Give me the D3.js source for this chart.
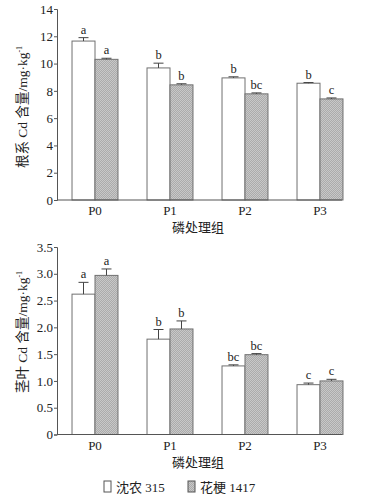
<!DOCTYPE html>
<html>
<head>
<meta charset="utf-8">
<script src="https://cdn.jsdelivr.net/npm/d3@7"></script>
<style>
  body { margin: 0; background: #fff; }
  svg text { font-family: "Liberation Serif", "Noto Sans CJK SC", serif; fill: #222; }
</style>
</head>
<body>
<svg id="chart" width="374" height="498"></svg>
<script>
var groups = ["P0", "P1", "P2", "P3"];
var series = ["沈农 315", "花梗 1417"];

// root Cd
var rootShen = [11.65, 9.68, 8.95, 8.56];
var rootShenErr = [0.25, 0.35, 0.08, 0.05];
var rootHua = [10.31, 8.44, 7.78, 7.41];
var rootHuaErr = [0.08, 0.08, 0.07, 0.07];
var rootShenSig = ["a", "b", "b", "b"];
var rootHuaSig = ["a", "b", "bc", "c"];
var rootTicks = [0, 2, 4, 6, 8, 10, 12, 14];

// shoot Cd
var shootShen = [2.62, 1.78, 1.28, 0.93];
var shootShenErr = [0.22, 0.18, 0.02, 0.03];
var shootHua = [2.97, 1.97, 1.49, 1.0];
var shootHuaErr = [0.12, 0.15, 0.02, 0.03];
var shootShenSig = ["a", "b", "bc", "c"];
var shootHuaSig = ["a", "b", "bc", "c"];
var shootTicks = [0, 0.5, 1.0, 1.5, 2.0, 2.5, 3.0, 3.5];

var svg = d3.select("#chart");

var defs = svg.append("defs");
var pat = defs.append("pattern")
    .attr("id", "hatch")
    .attr("width", 2).attr("height", 2)
    .attr("patternUnits", "userSpaceOnUse");
pat.append("rect").attr("width", 2).attr("height", 2).attr("fill", "#ababab");
pat.append("rect").attr("width", 1).attr("height", 1).attr("fill", "#c8c8c8");
pat.append("rect").attr("x", 1).attr("y", 1).attr("width", 1).attr("height", 1).attr("fill", "#c8c8c8");

var axisLeft = 57, axisRight = 342;

var xScale = d3.scaleBand()
    .domain(groups)
    .range([57.5, 357.5])
    .paddingInner(0.387)
    .paddingOuter(0.1935);

var xInner = d3.scaleBand()
    .domain(series)
    .range([0, xScale.bandwidth()]);

var drawPanel = function(opts) {
    var yScale = d3.scaleLinear().domain([opts.ticks[0], opts.ticks[opts.ticks.length - 1]])
        .range([opts.bottom, opts.top]);
    var g = svg.append("g");

    var data = [];
    groups.forEach(function(grp, i) {
        data.push({ grp: grp, s: series[0], v: opts.a[i], e: opts.aErr[i], sig: opts.aSig[i], fill: "#fff" });
        data.push({ grp: grp, s: series[1], v: opts.b[i], e: opts.bErr[i], sig: opts.bSig[i], fill: "url(#hatch)" });
    });

    g.selectAll(".bar").data(data).enter().append("rect")
        .attr("class", "bar")
        .attr("x", function(d) { return xScale(d.grp) + xInner(d.s); })
        .attr("y", function(d) { return yScale(d.v); })
        .attr("width", xInner.bandwidth())
        .attr("height", function(d) { return yScale(0) - yScale(d.v); })
        .attr("fill", function(d) { return d.fill; })
        .attr("stroke", "#707070")
        .attr("stroke-width", 1);

    // error bars (upper half only)
    var err = g.selectAll(".err").data(data).enter().append("g");
    err.append("line")
        .attr("x1", function(d) { return xScale(d.grp) + xInner(d.s) + xInner.bandwidth() / 2; })
        .attr("x2", function(d) { return xScale(d.grp) + xInner(d.s) + xInner.bandwidth() / 2; })
        .attr("y1", function(d) { return yScale(d.v); })
        .attr("y2", function(d) { return yScale(d.v + d.e); })
        .attr("stroke", "#444");
    err.append("line")
        .attr("x1", function(d) { return xScale(d.grp) + xInner(d.s) + xInner.bandwidth() / 2 - 5; })
        .attr("x2", function(d) { return xScale(d.grp) + xInner(d.s) + xInner.bandwidth() / 2 + 5; })
        .attr("y1", function(d) { return yScale(d.v + d.e); })
        .attr("y2", function(d) { return yScale(d.v + d.e); })
        .attr("stroke", "#444");

    g.selectAll(".sig").data(data).enter().append("text")
        .attr("x", function(d) { return xScale(d.grp) + xInner(d.s) + xInner.bandwidth() / 2; })
        .attr("y", function(d) { return yScale(d.v + d.e) - 4; })
        .attr("text-anchor", "middle")
        .attr("font-size", 12.5)
        .text(function(d) { return d.sig; });

    var yAxis = d3.axisLeft(yScale).tickValues(opts.ticks).tickSize(3)
        .tickFormat(function(d) { return d === 0 ? "0" : (opts.dec ? d3.format(".1f")(d) : d); });
    var ya = g.append("g").attr("transform", "translate(" + axisLeft + ",0)").call(yAxis);
    ya.select(".domain").attr("stroke", "#555");
    ya.selectAll(".tick line").attr("stroke", "#555");
    ya.selectAll(".tick text").attr("font-size", 13).attr("x", -4).attr("fill", "#222");

    g.append("line")
        .attr("x1", axisLeft).attr("x2", axisRight)
        .attr("y1", yScale(0)).attr("y2", yScale(0))
        .attr("stroke", "#555");

    g.selectAll(".xl").data(groups).enter().append("text")
        .attr("x", function(d) { return xScale(d) + xScale.bandwidth() / 2; })
        .attr("y", yScale(0) + 15)
        .attr("text-anchor", "middle")
        .attr("font-size", 13)
        .text(function(d) { return d; });

    g.append("text")
        .attr("x", 198).attr("y", yScale(0) + 32)
        .attr("text-anchor", "middle")
        .attr("font-size", 13)
        .text("磷处理组");

    var t = g.append("text")
        .attr("transform", "translate(27," + opts.titleY + ") rotate(-90)")
        .attr("text-anchor", "middle")
        .attr("font-size", 13.5);
    t.append("tspan").text(opts.title + " Cd 含量/mg·kg");
    t.append("tspan").attr("dy", -5).attr("font-size", 8).text("-1");
};

drawPanel({ a: rootShen, aErr: rootShenErr, aSig: rootShenSig,
    b: rootHua, bErr: rootHuaErr, bSig: rootHuaSig,
    ticks: rootTicks, top: 9, bottom: 200, title: "根系", titleY: 107, dec: false });

drawPanel({ a: shootShen, aErr: shootShenErr, aSig: shootShenSig,
    b: shootHua, bErr: shootHuaErr, bSig: shootHuaSig,
    ticks: shootTicks, top: 247, bottom: 434.5, title: "茎叶", titleY: 332, dec: true });

// legend
var legend = svg.append("g").attr("transform", "translate(0,487)");
var legX = [104, 188];
var legFill = ["#fff", "url(#hatch)"];
series.forEach(function(s, i) {
    legend.append("rect")
        .attr("x", legX[i]).attr("y", -6)
        .attr("width", 7).attr("height", 11)
        .attr("fill", legFill[i]).attr("stroke", "#555");
    legend.append("text")
        .attr("x", legX[i] + 12).attr("y", 4.5)
        .attr("font-size", 13)
        .text(s);
});
</script>
</body>
</html>
